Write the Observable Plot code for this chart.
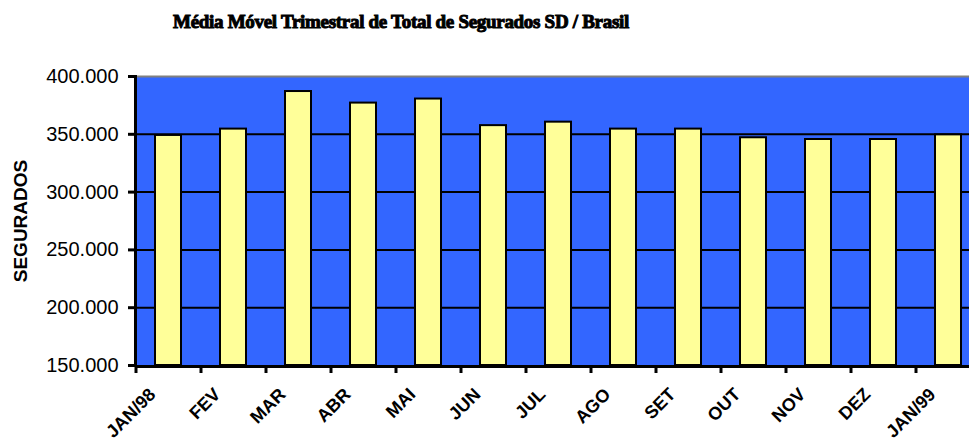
<!DOCTYPE html>
<html>
<head>
<meta charset="utf-8">
<script src="https://cdn.jsdelivr.net/npm/d3@7"></script>
<script src="https://cdn.jsdelivr.net/npm/@observablehq/plot@0.6"></script>
<style>
  html, body { margin: 0; padding: 0; overflow: hidden; background: white; }
  #wrap { position: relative; width: 969px; height: 443px; overflow: hidden; }
  #title { width: 802px; height: 56px; box-sizing: border-box; padding-top: 12px; text-align: center;
           font: bold 19px "Liberation Serif", "DejaVu Serif", serif; line-height: 20px; color: black;
           -webkit-text-stroke: 1px black; letter-spacing: -0.3px; }
  #chart svg { display: block; overflow: hidden; }
</style>
</head>
<body>
<div id="wrap">
  <div id="title">Média Móvel Trimestral de Total de Segurados SD / Brasil</div>
  <div id="chart"></div>
</div>
<script>
// ---- data ----
const months = ["JAN/98", "FEV", "MAR", "ABR", "MAI", "JUN", "JUL", "AGO", "SET", "OUT", "NOV", "DEZ", "JAN/99"];
const segurados = [349000, 354500, 387000, 377000, 380500, 357500, 360500, 354500, 354500, 347000, 345500, 345500, 349500];
const yTicks = [150000, 200000, 250000, 300000, 350000, 400000];
const gridValues = [200000, 250000, 300000, 350000];
const yMin = 150000;
const yMax = 400000;
const yLabel = "SEGURADOS";

const table = months.map((m, i) => ({month: m, value: segurados[i]}));
const fmt = d => d3.format(",")(d).replace(/,/g, ".");

const chart = Plot.plot({
  width: 969,
  height: 387,
  marginTop: 20,
  marginBottom: 78,
  marginLeft: 135,
  marginRight: 0,
  style: {fontFamily: "'Liberation Sans', Arial, sans-serif", background: "white", color: "black"},
  // the chart's last category band runs past the right edge of the picture
  x: {type: "band", domain: months, paddingInner: 0.6, paddingOuter: 0.3, range: [135, 980]},
  y: {domain: [yMin, yMax]},
  marks: [
    Plot.frame({fill: "#3366FF", stroke: null}),
    Plot.ruleY(gridValues, {stroke: "black", strokeWidth: 2}),
    Plot.barY(table, {x: "month", y1: () => yMin, y2: "value", fill: "#FFFF99", stroke: "black", strokeWidth: 2}),
    Plot.ruleY([yMax], {stroke: "#808080", strokeWidth: 2}),
    Plot.ruleY([yMin], {stroke: "black", strokeWidth: 3, dy: 1}),
    Plot.frame({anchor: "left", stroke: "black", strokeWidth: 3}),
    Plot.axisY({ticks: yTicks, tickSize: 7, tickPadding: 10, tickFormat: fmt, strokeWidth: 3, fontSize: 20, letterSpacing: "-0.5px", label: null}),
    Plot.axisX({tickSize: 8, tickFormat: () => "", dx: -32.5, strokeWidth: 3, label: null}),
    Plot.axisX({tickSize: 0, tickRotate: -45, tickPadding: 26, dx: -16, fontSize: 18, fontWeight: "bold", label: null}),
    Plot.text([yLabel], {text: d => d, frameAnchor: "left", textAnchor: "middle", dx: -115, rotate: -90, fontSize: 19, fontWeight: "bold"})
  ]
});
document.getElementById("chart").appendChild(chart);
</script>
</body>
</html>
